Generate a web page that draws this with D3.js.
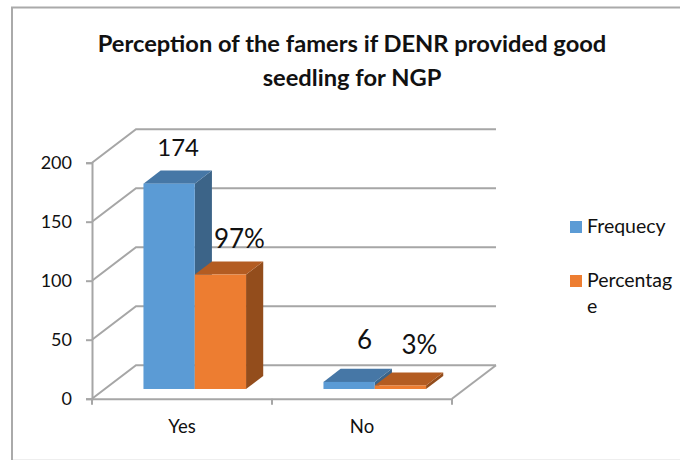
<!DOCTYPE html>
<html>
<head>
<meta charset="utf-8">
<script src="https://cdn.jsdelivr.net/npm/d3@7"></script>
<style>
  html, body { margin: 0; padding: 0; background: #fff; }
  svg { display: block; }
  text { font-family: Lato, "Open Sans", sans-serif; fill: #111; }
</style>
</head>
<body>
<div id="chart"><svg width="680" height="460"></svg></div>
<script>
const categories = ["Yes", "No"];
const seriesNames = ["Frequecy", "Percentage"];
const frequency = [174, 6];
const percentage = [97, 3];
const freqLabels = ["174", "6"];
const pctLabels = ["97%", "3%"];
const yTicks = [0, 50, 100, 150, 200];

const colors = {
    Frequecy: {front: "#5b9bd5", top: "#4677a6", side: "#3c6488"},
    Percentage: {front: "#ed7d31", top: "#b35c22", side: "#934d1c"}
};

const svg = d3.select("#chart svg");

// chart frame, the right side is cropped off and the bottom is barely visible
const frame = svg.append("g").attr("fill", "none");
frame.append("path").attr("d", "M12,460V7.5H680").attr("stroke", "#aaaaaa").attr("stroke-width", 2);
frame.append("path").attr("d", "M13,459.5H680").attr("stroke", "#eeeeee").attr("stroke-width", 1);

// title
const title = svg.append("text")
    .attr("text-anchor", "middle")
    .attr("font-weight", 700)
    .attr("font-size", 23.7);
title.append("tspan").attr("x", 352).attr("y", 52)
    .text("Perception of the famers if DENR provided good");
title.append("tspan").attr("x", 352).attr("y", 86)
    .text("seedling for NGP");

// plot scales, the floor is sheared back by a fixed depth
const x = d3.scaleBand().domain(categories).range([92, 452]);
const y = d3.scaleLinear().domain([0, 200]).range([398.7, 162.7]);
const depthX = 44, depthY = -33.5;
const barW = 51.3;
const barFront = 0.29, barDepth = 0.39;

const axisColor = "#a6a6a6";

// walls and gridlines
const grid = svg.append("g").attr("fill", "none")
    .attr("stroke", axisColor).attr("stroke-width", 2);
yTicks.forEach(t => {
    grid.append("path").attr("d", d3.line()([
        [x.range()[0], y(t)],
        [x.range()[0] + depthX, y(t) + depthY],
        [x.range()[1] + depthX, y(t) + depthY]
    ]));
});
// right edge of the floor
grid.append("path").attr("d", d3.line()([
    [x.range()[1], y(0)],
    [x.range()[1] + depthX, y(0) + depthY]
]));

// bars
const barLeft = (cat, i) => x(cat) + x.bandwidth() / 2 - barW + i * barW + depthX * barFront;
const barBase = y(0) + depthY * barFront;

function drawBar(g, cat, i, value, c) {
    const x0 = barLeft(cat, i);
    const y0 = barBase;
    const h = y(0) - y(value);
    const dx = depthX * barDepth, dy = depthY * barDepth;
    const line = d3.line();
    g.append("path").attr("fill", c.side).attr("d", line([
        [x0 + barW, y0], [x0 + barW + dx, y0 + dy],
        [x0 + barW + dx, y0 + dy - h], [x0 + barW, y0 - h]
    ]) + "Z");
    g.append("path").attr("fill", c.top).attr("d", line([
        [x0, y0 - h], [x0 + dx, y0 - h + dy],
        [x0 + barW + dx, y0 - h + dy], [x0 + barW, y0 - h]
    ]) + "Z");
    g.append("rect").attr("fill", c.front)
        .attr("x", x0).attr("y", y0 - h)
        .attr("width", barW).attr("height", h);
}

const bars = svg.append("g");
categories.forEach((cat, k) => {
    drawBar(bars, cat, 0, frequency[k], colors.Frequecy);
    drawBar(bars, cat, 1, percentage[k], colors.Percentage);
});

// left axis
const yAxis = svg.append("g")
    .attr("transform", "translate(" + x.range()[0] + ",0)")
    .call(d3.axisLeft(y).tickValues(yTicks).tickSize(6).tickPadding(14).tickFormat(d3.format("d")));
yAxis.selectAll("text").attr("font-size", 18).style("font-family", "Lato").attr("fill", "#111");

// bottom axis, ticks on the band edges
const xAxis = svg.append("g")
    .attr("transform", "translate(0," + y(0) + ")")
    .call(d3.axisBottom(x).tickSize(0).tickPadding(21));
xAxis.selectAll("text").attr("font-size", 18.5).style("font-family", "Lato").attr("fill", "#111");
const edges = [x.range()[0], x("No"), x.range()[1]];
xAxis.selectAll(".edge").data(edges).enter().append("line")
    .attr("class", "edge")
    .attr("x1", d => d).attr("x2", d => d)
    .attr("y1", 0).attr("y2", 6);
svg.selectAll(".domain, .tick line, .edge")
    .attr("stroke", axisColor).attr("stroke-width", 2);

// value labels sit off to the right of their bars in the original
const labelOffsets = {
    "174": [9, -28, 24], "97%": [19, -26.5, 26], "6": [15.5, -33, 26], "3%": [19, -31.7, 26]
};
const labelLayer = svg.append("g").attr("text-anchor", "middle");
categories.forEach((cat, k) => {
    [[frequency, freqLabels], [percentage, pctLabels]].forEach((s, i) => {
        const txt = s[1][k];
        const off = labelOffsets[txt];
        const cx = barLeft(cat, i) + barW / 2;
        const top = barBase - (y(0) - y(s[0][k]));
        labelLayer.append("text")
            .attr("x", cx + off[0])
            .attr("y", top + off[1])
            .attr("font-size", off[2])
            .text(txt);
    });
});

// legend
const legend = svg.append("g").attr("font-size", 19.5);
const legendY = d3.scalePoint().domain(seriesNames).range([221, 275]);
seriesNames.forEach(name => {
    legend.append("rect")
        .attr("x", 570).attr("y", legendY(name))
        .attr("width", 12).attr("height", 12)
        .attr("fill", colors[name].front);
});
legend.append("text").attr("x", 587).attr("y", 233).text("Frequecy");
legend.append("text").attr("x", 587).attr("y", 287).text("Percentag");
legend.append("text").attr("x", 587).attr("y", 313).text("e");
</script>
</body>
</html>
